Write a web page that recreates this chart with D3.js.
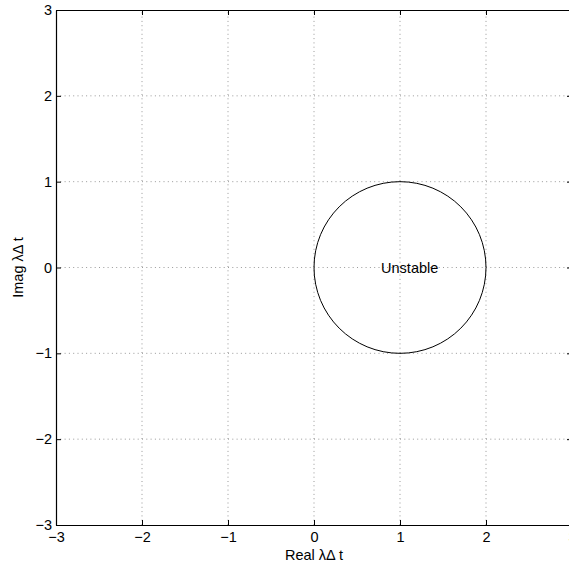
<!DOCTYPE html>
<html>
<head>
<meta charset="utf-8">
<script src="https://cdn.jsdelivr.net/npm/d3@7"></script>
<style>
  body { margin: 0; background: #fff; }
  svg { display: block; font-family: "Liberation Sans", Arial, sans-serif; }
</style>
</head>
<body>
<div id="chart"></div>
<script>
// axis limits and ticks
const xDomain = [-3, 3];
const yDomain = [-3, 3];
const xTicks = [-3, -2, -1, 0, 1, 2, 3];
const yTicks = [-3, -2, -1, 0, 1, 2, 3];

// unit circle centred at 1 (boundary of stability region)
const circleCenter = [1, 0];
const circleRadius = 1;

// annotation
const labelText = "Unstable";
const labelPos = [0.78, 0];

const width = 569, height = 565;
const margin = { top: 10, right: -3, bottom: 40, left: 56 };
const fs = 14.5;

const svg = d3.select("#chart").append("svg")
    .attr("width", width).attr("height", height);

const x = d3.scaleLinear().domain(xDomain).range([margin.left, width - margin.right]);
const y = d3.scaleLinear().domain(yDomain).range([height - margin.bottom, margin.top]);

const fmt = d => d < 0 ? "\u2212" + Math.abs(d) : String(d);

// dotted grid
svg.append("g")
    .selectAll("line")
    .data(xTicks.slice(1, -1))
    .enter().append("line")
    .attr("x1", d => x(d)).attr("x2", d => x(d))
    .attr("y1", y(yDomain[0])).attr("y2", y(yDomain[1]))
    .attr("stroke", "#555").attr("stroke-width", 0.6)
    .attr("stroke-dasharray", "1,3.3");

svg.append("g")
    .selectAll("line")
    .data(yTicks.slice(1, -1))
    .enter().append("line")
    .attr("x1", x(xDomain[0])).attr("x2", x(xDomain[1]))
    .attr("y1", d => y(d)).attr("y2", d => y(d))
    .attr("stroke", "#555").attr("stroke-width", 0.6)
    .attr("stroke-dasharray", "1,3.3");

// circle
svg.append("ellipse")
    .attr("cx", x(circleCenter[0]))
    .attr("cy", y(circleCenter[1]))
    .attr("rx", x(circleRadius) - x(0))
    .attr("ry", y(0) - y(circleRadius))
    .attr("fill", "none")
    .attr("stroke", "#000")
    .attr("stroke-width", 1);

svg.append("text")
    .attr("x", x(labelPos[0]))
    .attr("y", y(labelPos[1]))
    .attr("dy", "0.35em")
    .attr("font-size", fs)
    .text(labelText);

// axes box with inward ticks
svg.append("g")
    .attr("transform", `translate(0,${y(yDomain[0])})`)
    .call(d3.axisBottom(x).tickValues(xTicks).tickFormat(fmt).tickSizeInner(-5).tickSizeOuter(0).tickPadding(7));
svg.append("g")
    .attr("transform", `translate(0,${y(yDomain[1])})`)
    .call(d3.axisTop(x).tickValues(xTicks).tickFormat("").tickSizeInner(-5).tickSizeOuter(0));
svg.append("g")
    .attr("transform", `translate(${x(xDomain[0])},0)`)
    .call(d3.axisLeft(y).tickValues(yTicks).tickFormat(fmt).tickSizeInner(-5).tickSizeOuter(0).tickPadding(4));
svg.append("g")
    .attr("transform", `translate(${x(xDomain[1])},0)`)
    .call(d3.axisRight(y).tickValues(yTicks).tickFormat("").tickSizeInner(-5).tickSizeOuter(0));

svg.selectAll(".domain").attr("stroke", "#000").attr("stroke-width", 1.2);
svg.selectAll(".tick line").attr("stroke", "#000");
svg.selectAll(".tick text").attr("font-size", fs).attr("fill", "#000")
    .attr("font-family", "Liberation Sans, Arial, sans-serif");

// axis titles
svg.append("text")
    .attr("x", x(0))
    .attr("y", y(yDomain[0]) + 30)
    .attr("dy", "0.35em")
    .attr("text-anchor", "middle")
    .attr("font-size", fs)
    .text("Real \u03bb\u0394 t");

svg.append("text")
    .attr("transform", `translate(18,${y(0)}) rotate(-90)`)
    .attr("dy", "0.35em")
    .attr("text-anchor", "middle")
    .attr("font-size", fs)
    .text("Imag \u03bb\u0394 t");
</script>
</body>
</html>
